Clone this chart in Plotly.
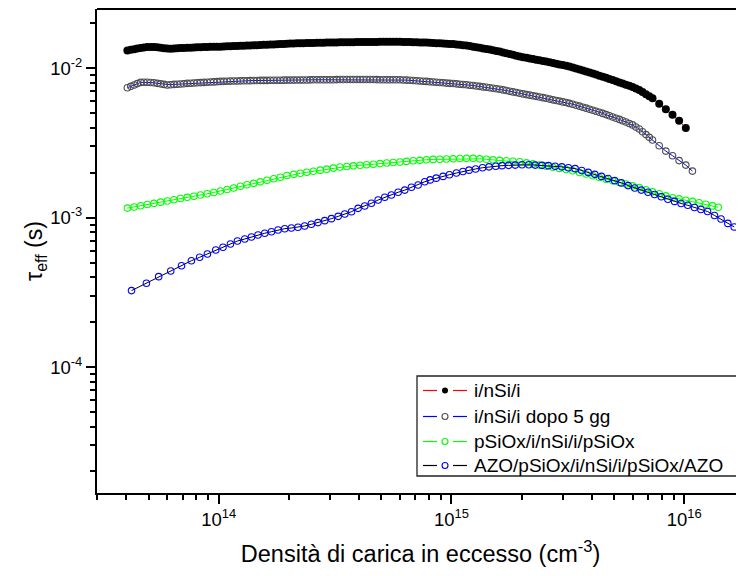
import plotly.graph_objects as go

# ---------------- data ----------------
# Excess carrier density (cm^-3) for the pSiOx series
dn_common = [4.05e13, 4.33e13, 4.62e13, 4.93e13, 5.27e13, 5.63e13, 6.01e13, 6.42e13, 6.85e13, 7.32e13,
             7.82e13, 8.35e13, 8.92e13, 9.52e13, 1.017e14, 1.086e14, 1.16e14, 1.239e14, 1.323e14, 1.413e14,
             1.509e14, 1.612e14, 1.722e14, 1.839e14, 1.964e14, 2.10e14, 2.24e14, 2.39e14, 2.55e14, 2.73e14,
             2.91e14, 3.11e14, 3.32e14, 3.55e14, 3.79e14, 4.05e14, 4.32e14, 4.62e14, 4.93e14, 5.27e14,
             5.62e14, 6.01e14, 6.41e14, 6.85e14, 7.32e14, 7.81e14, 8.34e14, 8.91e14, 9.52e14, 1.017e15,
             1.086e15, 1.16e15, 1.239e15, 1.323e15, 1.413e15, 1.509e15, 1.612e15, 1.721e15, 1.838e15, 1.963e15,
             2.10e15, 2.24e15, 2.39e15, 2.55e15, 2.73e15, 2.91e15, 3.11e15, 3.32e15, 3.55e15, 3.79e15,
             4.05e15, 4.32e15, 4.62e15, 4.93e15, 5.27e15, 5.62e15, 6.0e15, 6.41e15, 6.85e15, 7.31e15,
             7.81e15, 8.34e15, 8.91e15, 9.51e15, 1.016e16, 1.085e16, 1.159e16, 1.238e16, 1.322e16, 1.40e16]

# Denser density grid for the two i/nSi/i series
dn_dense = [4.05e13, 4.19e13, 4.33e13, 4.47e13, 4.62e13, 4.77e13, 4.93e13, 5.10e13, 5.27e13, 5.45e13,
            5.63e13, 5.82e13, 6.01e13, 6.21e13, 6.42e13, 6.63e13, 6.85e13, 7.08e13, 7.32e13, 7.57e13,
            7.82e13, 8.08e13, 8.35e13, 8.63e13, 8.92e13, 9.22e13, 9.52e13, 9.84e13, 1.017e14, 1.051e14,
            1.086e14, 1.122e14, 1.16e14, 1.199e14, 1.239e14, 1.280e14, 1.323e14, 1.367e14, 1.413e14, 1.460e14,
            1.509e14, 1.560e14, 1.612e14, 1.666e14, 1.722e14, 1.780e14, 1.839e14, 1.901e14, 1.964e14, 2.03e14,
            2.10e14, 2.17e14, 2.24e14, 2.31e14, 2.39e14, 2.47e14, 2.55e14, 2.64e14, 2.73e14, 2.82e14,
            2.91e14, 3.01e14, 3.11e14, 3.21e14, 3.32e14, 3.43e14, 3.55e14, 3.67e14, 3.79e14, 3.92e14,
            4.05e14, 4.18e14, 4.32e14, 4.47e14, 4.62e14, 4.77e14, 4.93e14, 5.10e14, 5.27e14, 5.44e14,
            5.62e14, 5.81e14, 6.01e14, 6.21e14, 6.41e14, 6.63e14, 6.85e14, 7.08e14, 7.32e14, 7.56e14,
            7.81e14, 8.07e14, 8.34e14, 8.62e14, 8.91e14, 9.21e14, 9.52e14, 9.84e14, 1.017e15, 1.051e15,
            1.086e15, 1.122e15, 1.16e15, 1.199e15, 1.239e15, 1.280e15, 1.323e15, 1.367e15, 1.413e15, 1.460e15,
            1.509e15, 1.560e15, 1.612e15, 1.666e15, 1.721e15, 1.779e15, 1.838e15, 1.900e15, 1.963e15, 2.03e15,
            2.10e15, 2.17e15, 2.24e15, 2.31e15, 2.39e15, 2.47e15, 2.55e15, 2.64e15, 2.73e15, 2.82e15,
            2.91e15, 3.01e15, 3.11e15, 3.21e15, 3.32e15, 3.43e15, 3.55e15, 3.67e15, 3.79e15, 3.92e15,
            4.05e15, 4.18e15, 4.32e15, 4.47e15, 4.62e15, 4.77e15, 4.93e15, 5.10e15, 5.27e15, 5.44e15,
            5.62e15, 5.81e15, 6.0e15, 6.20e15, 6.41e15, 6.62e15, 6.85e15, 7.08e15, 7.31e15, 7.81e15,
            8.34e15, 8.91e15, 9.51e15, 1.016e16, 1.085e16]

# i/nSi/i  (tau_eff, s)
tau_insi = [0.01315, 0.01329, 0.01343, 0.01356, 0.01368, 0.01380, 0.01390, 0.01389, 0.01387, 0.01381,
            0.01374, 0.01364, 0.01355, 0.01354, 0.01355, 0.01360, 0.01365, 0.01368, 0.01371, 0.01374,
            0.01377, 0.01381, 0.01384, 0.01387, 0.01390, 0.01392, 0.01393, 0.01395, 0.01396, 0.01400,
            0.01403, 0.01406, 0.01409, 0.01413, 0.01416, 0.01418, 0.01419, 0.01423, 0.01426, 0.01429,
            0.01432, 0.01436, 0.01439, 0.01442, 0.01445, 0.01449, 0.01452, 0.01456, 0.01459, 0.01463,
            0.01466, 0.01469, 0.01472, 0.01474, 0.01476, 0.01478, 0.01479, 0.01481, 0.01483, 0.01485,
            0.01486, 0.01488, 0.01489, 0.01491, 0.01493, 0.01495, 0.01496, 0.01496, 0.01496, 0.01498,
            0.01500, 0.01500, 0.01500, 0.01500, 0.01500, 0.01502, 0.01503, 0.01503, 0.01503, 0.01503,
            0.01503, 0.01503, 0.01503, 0.01502, 0.01500, 0.01498, 0.01496, 0.01493, 0.01489, 0.01488,
            0.01486, 0.01481, 0.01476, 0.01473, 0.01469, 0.01466, 0.01462, 0.01457, 0.01452, 0.01444,
            0.01435, 0.01427, 0.01419, 0.01408, 0.01396, 0.01384, 0.01371, 0.01359, 0.01346, 0.01334,
            0.01321, 0.01308, 0.01294, 0.01278, 0.01262, 0.01246, 0.01230, 0.01215, 0.01199, 0.01187,
            0.01175, 0.01164, 0.01153, 0.01143, 0.01132, 0.01121, 0.01109, 0.01097, 0.01084, 0.01073,
            0.01062, 0.01051, 0.01040, 0.01027, 0.01014, 0.00998, 0.00982, 0.00966, 0.00951, 0.00937,
            0.00923, 0.00908, 0.00893, 0.00878, 0.00863, 0.00848, 0.00834, 0.00819, 0.00804, 0.00790,
            0.00776, 0.00763, 0.00750, 0.00733, 0.00716, 0.00693, 0.00671, 0.00651, 0.00631, 0.00579,
            0.00532, 0.00488, 0.00445, 0.00399]

# i/nSi/i dopo 5 gg
tau_insi_5gg = [0.00741, 0.00757, 0.00774, 0.00790, 0.00805, 0.00806, 0.00807, 0.00804, 0.00800, 0.00793,
                0.00787, 0.00780, 0.00773, 0.00776, 0.00780, 0.00782, 0.00785, 0.00789, 0.00793, 0.00795,
                0.00798, 0.00800, 0.00802, 0.00805, 0.00807, 0.00809, 0.00811, 0.00814, 0.00817, 0.00818,
                0.00820, 0.00821, 0.00822, 0.00823, 0.00824, 0.00825, 0.00826, 0.00827, 0.00828, 0.00829,
                0.00830, 0.00830, 0.00830, 0.00831, 0.00832, 0.00832, 0.00832, 0.00833, 0.00834, 0.00834,
                0.00834, 0.00835, 0.00836, 0.00836, 0.00836, 0.00837, 0.00838, 0.00838, 0.00838, 0.00838,
                0.00839, 0.00839, 0.00839, 0.00840, 0.00841, 0.00841, 0.00841, 0.00841, 0.00841, 0.00841,
                0.00841, 0.00841, 0.00841, 0.00841, 0.00841, 0.00840, 0.00839, 0.00839, 0.00839, 0.00839,
                0.00839, 0.00838, 0.00838, 0.00836, 0.00834, 0.00831, 0.00828, 0.00825, 0.00822, 0.00819,
                0.00817, 0.00813, 0.00809, 0.00806, 0.00804, 0.00800, 0.00796, 0.00793, 0.00791, 0.00787,
                0.00783, 0.00779, 0.00776, 0.00771, 0.00767, 0.00762, 0.00757, 0.00751, 0.00746, 0.00741,
                0.00736, 0.00730, 0.00724, 0.00717, 0.00710, 0.00702, 0.00695, 0.00688, 0.00681, 0.00674,
                0.00667, 0.00661, 0.00655, 0.00649, 0.00643, 0.00636, 0.00630, 0.00622, 0.00615, 0.00609,
                0.00603, 0.00596, 0.00590, 0.00582, 0.00575, 0.00566, 0.00558, 0.00549, 0.00541, 0.00532,
                0.00524, 0.00516, 0.00508, 0.00499, 0.00490, 0.00481, 0.00472, 0.00463, 0.00455, 0.00446,
                0.00437, 0.00427, 0.00418, 0.00405, 0.00392, 0.00376, 0.00360, 0.00345, 0.00331, 0.00303,
                0.00279, 0.00260, 0.00241, 0.00225, 0.00205]

# pSiOx/i/nSi/i/pSiOx
tau_psiox = [1.159e-3, 1.180e-3, 1.202e-3, 1.225e-3, 1.247e-3, 1.271e-3, 1.294e-3, 1.318e-3, 1.343e-3, 1.368e-3,
             1.393e-3, 1.419e-3, 1.445e-3, 1.476e-3, 1.510e-3, 1.545e-3, 1.581e-3, 1.622e-3, 1.660e-3, 1.698e-3,
             1.738e-3, 1.782e-3, 1.824e-3, 1.866e-3, 1.914e-3, 1.950e-3, 1.982e-3, 2.014e-3, 2.046e-3, 2.080e-3,
             2.113e-3, 2.148e-3, 2.183e-3, 2.203e-3, 2.223e-3, 2.244e-3, 2.259e-3, 2.280e-3, 2.301e-3, 2.323e-3,
             2.339e-3, 2.360e-3, 2.382e-3, 2.404e-3, 2.421e-3, 2.443e-3, 2.455e-3, 2.460e-3, 2.472e-3, 2.477e-3,
             2.489e-3, 2.495e-3, 2.495e-3, 2.477e-3, 2.460e-3, 2.438e-3, 2.421e-3, 2.404e-3, 2.388e-3, 2.371e-3,
             2.328e-3, 2.291e-3, 2.249e-3, 2.213e-3, 2.178e-3, 2.138e-3, 2.104e-3, 2.061e-3, 2.009e-3, 1.959e-3,
             1.910e-3, 1.858e-3, 1.811e-3, 1.766e-3, 1.722e-3, 1.679e-3, 1.633e-3, 1.589e-3, 1.538e-3, 1.489e-3,
             1.445e-3, 1.400e-3, 1.361e-3, 1.337e-3, 1.309e-3, 1.285e-3, 1.259e-3, 1.230e-3, 1.199e-3, 1.175e-3]

# AZO/pSiOx/i/nSi/i/pSiOx/AZO
dn_azo = [4.22e13, 4.89e13, 5.52e13, 6.22e13, 6.92e13, 7.63e13, 8.28e13, 8.94e13, 9.71e13, 1.043e14,
          1.123e14, 1.203e14, 1.294e14, 1.382e14, 1.475e14, 1.577e14, 1.685e14, 1.798e14, 1.921e14, 2.052e14,
          2.19e14, 2.34e14, 2.50e14, 2.67e14, 2.855e14, 3.05e14, 3.26e14, 3.48e14, 3.72e14, 3.97e14,
          4.24e14, 4.53e14, 4.84e14, 5.17e14, 5.52e14, 5.90e14, 6.30e14, 6.73e14, 7.19e14, 7.68e14,
          8.1e14, 8.6e14, 9.2e14, 9.8e14, 1.05e15, 1.12e15, 1.19e15, 1.27e15, 1.36e15, 1.45e15,
          1.55e15, 1.65e15, 1.76e15, 1.88e15, 2.01e15, 2.15e15, 2.29e15, 2.45e15, 2.61e15, 2.79e15,
          2.98e15, 3.18e15, 3.40e15, 3.63e15, 3.87e15, 4.13e15, 4.41e15, 4.71e15, 5.03e15, 5.37e15,
          5.74e15, 6.13e15, 6.54e15, 6.99e15, 7.46e15, 7.97e15, 8.51e15, 9.09e15, 9.70e15, 1.036e16,
          1.107e16, 1.18e16, 1.26e16, 1.35e16, 1.44e16, 1.54e16, 1.64e16]
tau_azo = [3.25e-4, 3.64e-4, 4.03e-4, 4.40e-4, 4.77e-4, 5.15e-4, 5.43e-4, 5.71e-4, 6.08e-4, 6.34e-4,
           6.67e-4, 6.98e-4, 7.20e-4, 7.43e-4, 7.66e-4, 7.87e-4, 8.06e-4, 8.28e-4, 8.44e-4, 8.53e-4,
           8.63e-4, 8.80e-4, 9.03e-4, 9.27e-4, 9.55e-4, 9.85e-4, 1.021e-3, 1.059e-3, 1.097e-3, 1.155e-3,
           1.197e-3, 1.248e-3, 1.313e-3, 1.37e-3, 1.42e-3, 1.48e-3, 1.53e-3, 1.60e-3, 1.655e-3, 1.74e-3,
           1.79e-3, 1.84e-3, 1.89e-3, 1.94e-3, 1.99e-3, 2.04e-3, 2.08e-3, 2.12e-3, 2.16e-3, 2.19e-3,
           2.21e-3, 2.23e-3, 2.24e-3, 2.25e-3, 2.26e-3, 2.26e-3, 2.25e-3, 2.24e-3, 2.23e-3, 2.21e-3,
           2.19e-3, 2.16e-3, 2.13e-3, 2.07e-3, 2.01e-3, 1.95e-3, 1.89e-3, 1.83e-3, 1.77e-3, 1.71e-3,
           1.64e-3, 1.58e-3, 1.53e-3, 1.48e-3, 1.43e-3, 1.38e-3, 1.33e-3, 1.285e-3, 1.245e-3, 1.21e-3,
           1.17e-3, 1.135e-3, 1.10e-3, 1.035e-3, 9.8e-4, 9.16e-4, 8.67e-4]

series_names = ["i/nSi/i", "i/nSi/i dopo 5 gg", "pSiOx/i/nSi/i/pSiOx", "AZO/pSiOx/i/nSi/i/pSiOx/AZO"]

x_tickvals = [1e14, 1e15, 1e16]
x_ticktext = ["10<sup>14</sup>", "10<sup>15</sup>", "10<sup>16</sup>"]
y_tickvals = [1e-4, 1e-3, 1e-2]
y_ticktext = ["10<sup>-4</sup>", "10<sup>-3</sup>", "10<sup>-2</sup>"]

# ---------------- styles ----------------
FONT = "Liberation Sans, Arial, sans-serif"
line_colors = ["#ff0000", "#0000ff", "#00ff00", "#000000"]
marker_colors = ["#000000", "#4d4d4d", "#00ff00", "#0000ff"]
marker_filled = [True, False, False, False]

fig = go.Figure()
series = [(dn_dense[:len(tau_insi)], tau_insi),
          (dn_dense[:len(tau_insi_5gg)], tau_insi_5gg),
          (dn_common[:len(tau_psiox)], tau_psiox),
          (dn_azo, tau_azo)]
for i, (xs, ys) in enumerate(series):
    fig.add_trace(go.Scatter(
        x=xs, y=ys, name=series_names[i], mode="lines+markers", showlegend=False,
        line=dict(color=line_colors[i], width=1),
        marker=dict(symbol="circle" if marker_filled[i] else "circle-open",
                    size=8 if marker_filled[i] else 6.5,
                    color=marker_colors[i],
                    line=dict(width=0 if marker_filled[i] else 1.1))))

minor_x = [m * 10 ** e for e in range(13, 17) for m in range(2, 10)]
minor_y = [m * 10.0 ** e for e in range(-5, -1) for m in range(2, 10)]

# plot area on screen (page body has an 8px margin)
PX0, PX1, PY0, PY1 = 97.0, 744.0, 9.0, 493.0


def fx(sx):
    return (sx - PX0) / (PX1 - PX0)


def fy(sy):
    return (PY1 - sy) / (PY1 - PY0)


shapes = [dict(type="line", xref="paper", yref="paper", x0=0, x1=1, y0=1, y1=1,
               line=dict(color="black", width=2))]
annotations = []
# legend box
shapes.append(dict(type="rect", xref="paper", yref="paper",
                   x0=fx(417), x1=fx(737), y0=fy(476), y1=fy(376),
                   line=dict(color="#222222", width=1.3), fillcolor="white", layer="above"))
row_y = [390.5, 416.5, 441.5, 465.5]
for i, ry in enumerate(row_y):
    for (a, b) in [(423, 437), (453, 467)]:
        shapes.append(dict(type="line", xref="paper", yref="paper",
                           x0=fx(a), x1=fx(b), y0=fy(ry), y1=fy(ry),
                           line=dict(color=line_colors[i], width=1.2), layer="above"))
    r = 3.0
    shapes.append(dict(type="circle", xref="paper", yref="paper",
                       x0=fx(445 - r), x1=fx(445 + r), y0=fy(ry + r), y1=fy(ry - r),
                       line=dict(color=marker_colors[i], width=0 if marker_filled[i] else 1.1),
                       fillcolor=marker_colors[i] if marker_filled[i] else "white",
                       layer="above"))
    annotations.append(dict(xref="paper", yref="paper", x=fx(472), y=fy(ry),
                            xanchor="left", yanchor="middle", showarrow=False,
                            text=series_names[i],
                            font=dict(family=FONT, size=19, color="black")))

fig.update_layout(
    width=744, height=576,
    margin=dict(l=89, r=8, t=1, b=91, autoexpand=False),
    paper_bgcolor="white", plot_bgcolor="white",
    font=dict(family=FONT, color="black", size=18),
    showlegend=False,
    xaxis=dict(type="log", range=[13.477, 16.257],
               tickmode="array", tickvals=x_tickvals, ticktext=x_ticktext,
               ticks="outside", ticklen=9, tickwidth=1.5, tickcolor="black",
               showline=True, linecolor="black", linewidth=2, mirror=False,
               showgrid=False, zeroline=False,
               tickfont=dict(family=FONT, size=18.5),
               minor=dict(tickvals=minor_x, ticks="outside", ticklen=5, tickwidth=1.5,
                          tickcolor="black", showgrid=False),
               title=dict(text="Densità di carica in eccesso (cm<sup>-3</sup>)",
                          font=dict(family=FONT, size=23.5), standoff=16)),
    yaxis=dict(type="log", range=[-4.843, -1.603],
               tickmode="array", tickvals=y_tickvals, ticktext=y_ticktext,
               ticks="outside", ticklen=9, tickwidth=1.5, tickcolor="black",
               showline=True, linecolor="black", linewidth=2, mirror=False,
               showgrid=False, zeroline=False,
               tickfont=dict(family=FONT, size=18.5),
               minor=dict(tickvals=minor_y, ticks="outside", ticklen=5, tickwidth=1.5,
                          tickcolor="black", showgrid=False),
               title=dict(text="τ<sub>eff</sub> (s)",
                          font=dict(family=FONT, size=23), standoff=0)),
    shapes=shapes,
    annotations=annotations,
)

fig.write_html("out.html")
